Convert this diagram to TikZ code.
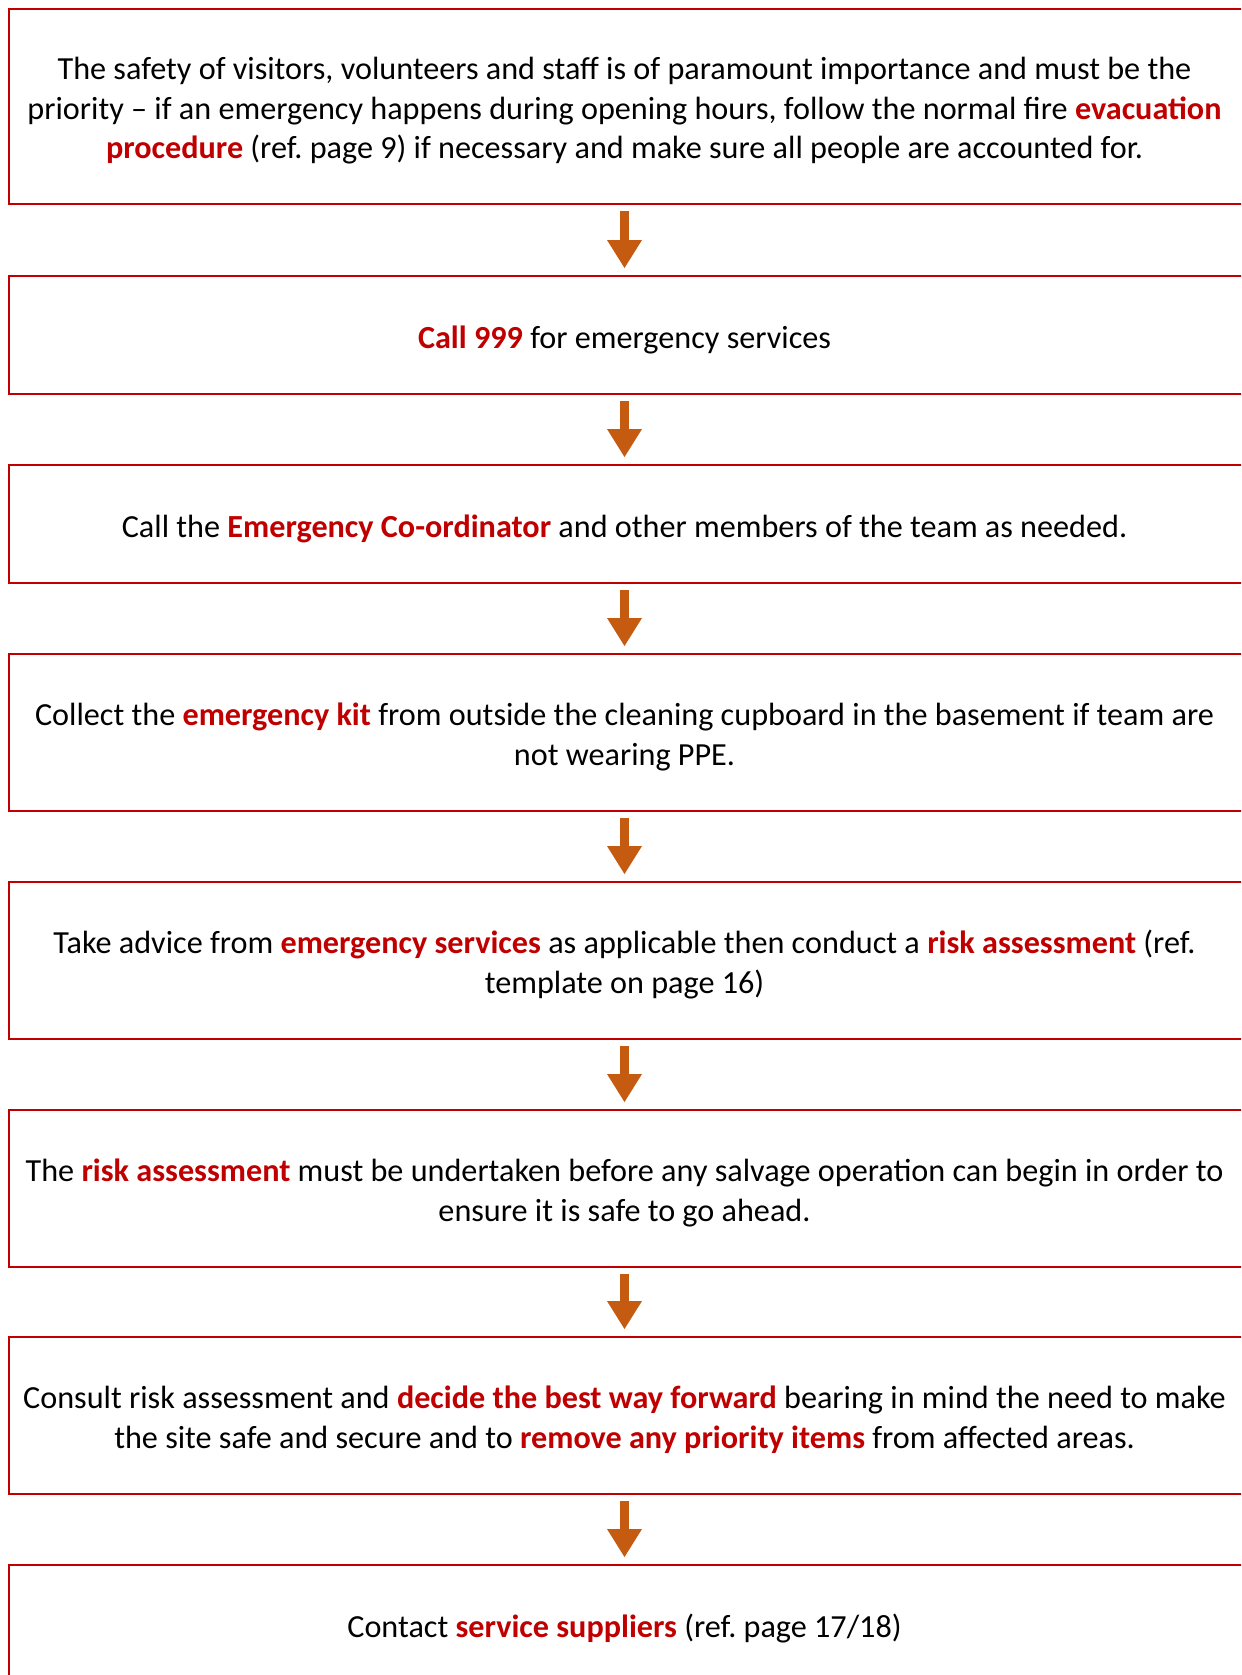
\documentclass[tikz,border=0pt]{standalone}
\usepackage{fontspec}
\setmainfont{Carlito}
\usetikzlibrary{arrows.meta,calc}
\definecolor{boxred}{HTML}{C00000}
\definecolor{arrowor}{HTML}{C55A11}
\newcommand{\redb}[1]{\textcolor{boxred}{\textbf{#1}}}
\frenchspacing
\tikzset{
  stepbox/.style={draw=boxred, line width=1pt, rectangle, anchor=north west, inner sep=0pt, outer sep=0pt, minimum width=602pt},
  steptext/.style={align=center, font=\fontsize{15.45}{19}\selectfont, inner sep=0pt, text=black},
  flowarrow/.style={draw=arrowor, line width=4.32pt, -{Triangle[width=16.8pt, length=13.44pt, line width=0pt]}}
}
\begin{document}
\begin{tikzpicture}[x=0.48pt, y=-0.48pt]
\path[use as bounding box, fill=white] (0,0) rectangle (1241,1675);
\clip (0,0) rectangle (1241,1675);
% boxes
\node[stepbox, minimum height=93.6pt]  (b1) at (9,9) {};
\node[stepbox, minimum height=56.64pt] (b2) at (9,276) {};
\node[stepbox, minimum height=56.64pt] (b3) at (9,465) {};
\node[stepbox, minimum height=75.36pt] (b4) at (9,654) {};
\node[stepbox, minimum height=75.36pt] (b5) at (9,882) {};
\node[stepbox, minimum height=75.36pt] (b6) at (9,1110) {};
\node[stepbox, minimum height=75.36pt] (b7) at (9,1337) {};
\node[stepbox, minimum height=56.64pt] (b8) at (9,1565) {};
% texts
\node[steptext] (t1) at (624.5,111) {The safety of visitors, volunteers and staff is of paramount importance and must be the\\ priority -- if an emergency happens during opening hours, follow the normal fire \redb{evacuation}\\ \redb{procedure} (ref. page 9) if necessary and make sure all people are accounted for.};
\node[steptext] (t2) at (624.5,339.5) {\redb{Call 999} for emergency services};
\node[steptext] (t3) at (624.5,528.5) {Call the \redb{Emergency Co-ordinator} and other members of the team as needed.};
\node[steptext] (t4) at (624.5,737) {Collect the \redb{emergency kit} from outside the cleaning cupboard in the basement if team are\\ not wearing PPE.};
\node[steptext] (t5) at (624.5,964.5) {Take advice from \redb{emergency services} as applicable then conduct a \redb{risk assessment} (ref.\\ template on page 16)};
\node[steptext] (t6) at (624.5,1193) {The \redb{risk assessment} must be undertaken before any salvage operation can begin in order to\\ ensure it is safe to go ahead.};
\node[steptext] (t7) at (624.5,1420) {Consult risk assessment and \redb{decide the best way forward} bearing in mind the need to make\\ the site safe and secure and to \redb{remove any priority items} from affected areas.};
\node[steptext] (t8) at (624.5,1628.5) {Contact \redb{service suppliers} (ref. page 17/18)};
% arrows
\foreach \a/\b in {1/2,2/3,3/4,4/5,5/6,6/7,7/8}{
  \draw[flowarrow] ($(b\a.south -| t1.center)+(0,7)$) -- ($(b\b.north -| t1.center)+(0,-8)$);
}
\end{tikzpicture}
\end{document}
